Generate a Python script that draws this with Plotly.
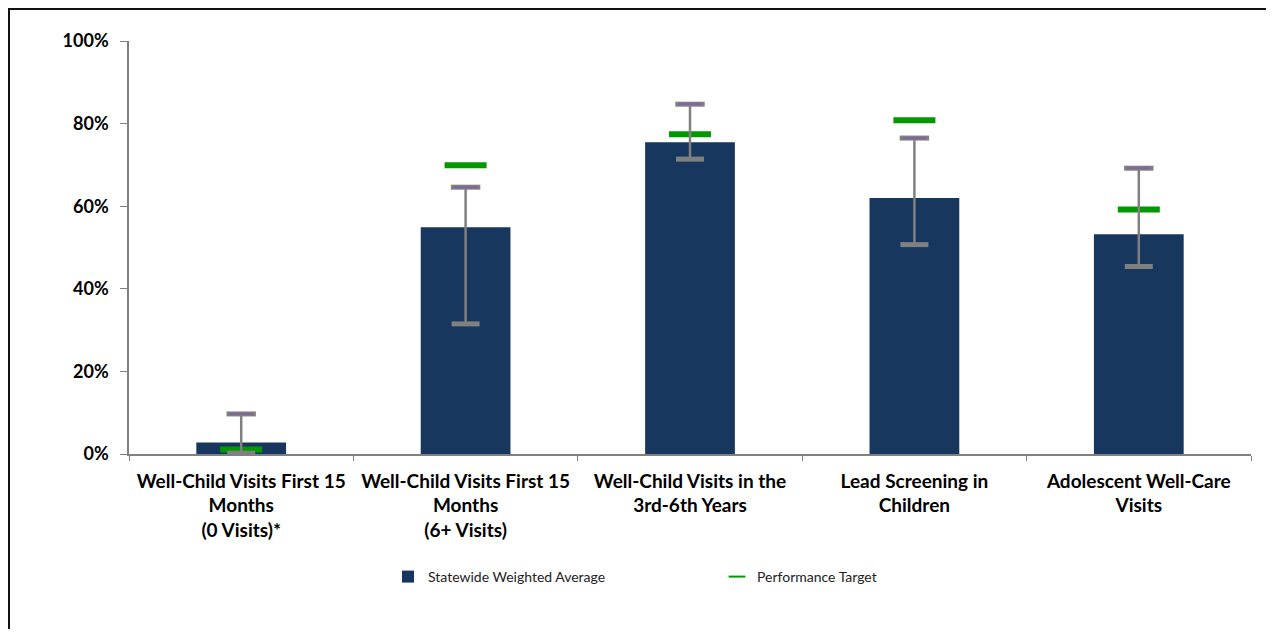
import plotly.graph_objects as go

# data (fractions of 1)
categories = [
    "Well-Child Visits First 15<br>Months<br>(0 Visits)*",
    "Well-Child Visits First 15<br>Months<br>(6+ Visits)",
    "Well-Child Visits in the<br>3rd-6th Years",
    "Lead Screening in<br>Children",
    "Adolescent Well-Care<br>Visits",
]
statewide_avg = [0.028, 0.549, 0.755, 0.620, 0.532]
range_high = [0.097, 0.646, 0.847, 0.765, 0.692]
range_low = [0.002, 0.315, 0.714, 0.507, 0.454]
perf_target = [0.011, 0.699, 0.774, 0.808, 0.592]

NAVY = "#17375E"
GREEN = "#009A00"
GRAY = "#808080"
PURPLE = "#8064A2"
FONT = "Lato"

err_plus = [h - v for h, v in zip(range_high, statewide_avg)]
err_minus = [v - l for v, l in zip(statewide_avg, range_low)]

fig = go.Figure()

# bars
fig.add_trace(go.Bar(
    x=categories, y=statewide_avg,
    name="Statewide Weighted Average",
    marker=dict(color=NAVY, line=dict(width=0)),
))

# performance target dashes
fig.add_trace(go.Scatter(
    x=categories, y=perf_target,
    mode="markers",
    name="Performance Target",
    marker=dict(symbol="line-ew", size=30, line=dict(color=GREEN, width=6)),
))

# error bar stems (drawn above the target marks)
fig.add_trace(go.Scatter(
    x=categories, y=statewide_avg,
    mode="markers",
    marker=dict(size=1, color="rgba(0,0,0,0)"),
    error_y=dict(type="data", symmetric=False, array=err_plus,
                 arrayminus=err_minus, color=GRAY, thickness=2.5, width=0),
    showlegend=False, hoverinfo="skip",
))

# lower caps
fig.add_trace(go.Scatter(
    x=categories, y=range_low, mode="markers",
    marker=dict(symbol="line-ew", size=20, line=dict(color=GRAY, width=5)),
    showlegend=False, hoverinfo="skip",
))

# upper caps: gray outline with purple centre
fig.add_trace(go.Scatter(
    x=categories, y=range_high, mode="markers",
    marker=dict(symbol="line-ew", size=21, line=dict(color=GRAY, width=5)),
    showlegend=False, hoverinfo="skip",
))
fig.add_trace(go.Scatter(
    x=categories, y=range_high, mode="markers",
    marker=dict(symbol="line-ew", size=17, line=dict(color=PURPLE, width=2)),
    showlegend=False, hoverinfo="skip",
))

# figure sits 8px into the page (body margin)
W, H = 1266, 621
plot_l, plot_r, plot_t, plot_b = 121, 1243, 33, 446
pw, ph = plot_r - plot_l, plot_b - plot_t

def px_x(v):
    return (v - plot_l) / pw

def px_y(v):
    return (plot_b - v) / ph

# chart frame: dark left/top, light right, bottom cut off
fig.add_shape(type="line", xref="paper", yref="paper",
              x0=px_x(1), x1=px_x(1), y0=px_y(700), y1=px_y(0),
              line=dict(color="#111111", width=2))
fig.add_shape(type="line", xref="paper", yref="paper",
              x0=px_x(0), x1=px_x(W), y0=px_y(1), y1=px_y(1),
              line=dict(color="#111111", width=2))
fig.add_shape(type="line", xref="paper", yref="paper",
              x0=px_x(W - 1), x1=px_x(W - 1), y0=px_y(700), y1=px_y(0),
              line=dict(color="#BBBBBB", width=2))

fig.update_layout(
    width=W, height=H,
    margin=dict(l=plot_l, r=W - plot_r, t=plot_t, b=H - plot_b),
    paper_bgcolor="white", plot_bgcolor="white",
    bargap=0.6,
    font=dict(family=FONT, color="black"),
    showlegend=True,
    legend=dict(
        orientation="h", x=px_x(380), xanchor="left",
        y=px_y(569), yanchor="middle",
        font=dict(size=14, color="#222222"),
        entrywidth=284, itemwidth=30, itemsizing="constant",
        bgcolor="rgba(0,0,0,0)",
    ),
)

fig.update_xaxes(
    showline=True, linecolor=GRAY, linewidth=1.5,
    ticks="outside", tickson="boundaries", ticklen=5, tickcolor=GRAY,
    ticklabelstandoff=9,
    tickfont=dict(family=FONT, size=19, color="black", weight="bold"),
    showgrid=False, zeroline=False,
)
fig.update_yaxes(
    range=[0, 1], dtick=0.2, tickformat=".0%",
    showline=True, linecolor=GRAY, linewidth=1.5,
    ticks="outside", ticklen=7, tickcolor=GRAY,
    ticklabelstandoff=8,
    tickfont=dict(family=FONT, size=18, color="black", weight="bold"),
    showgrid=False, zeroline=False,
)

fig.write_html("out.html")
